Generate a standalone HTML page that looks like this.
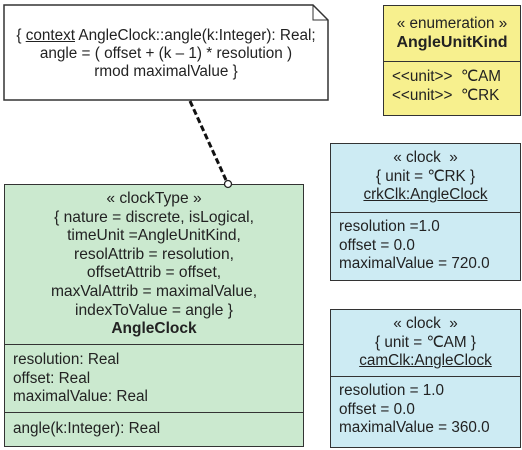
<!DOCTYPE html>
<html><head><meta charset="utf-8"><style>
body{margin:0;width:522px;height:450px;background:#fff;position:relative;font-family:"Liberation Sans",sans-serif;font-size:15.3px;color:#222;overflow:hidden}
.b{position:absolute;border:1.5px solid #333;box-sizing:border-box}
.t{position:absolute;left:0;right:0;text-align:center;line-height:18.6px;white-space:nowrap}
.l{position:absolute;left:8px;line-height:18.6px;white-space:nowrap}
.h{position:absolute;left:0;right:0;border-top:1.5px solid #333}
u{text-decoration:underline}
</style></head><body>
<svg width="522" height="450" style="position:absolute;left:0;top:0">
<path d="M4 5 H313 L328 20 V100 H4 Z" fill="#fff" stroke="#333" stroke-width="1.5"/>
<path d="M313 5 V20 H328" fill="none" stroke="#333" stroke-width="1"/>
<line x1="190" y1="101" x2="226" y2="180" stroke="#111" stroke-width="3" stroke-dasharray="6,3"/>
</svg>
<div class="t" style="left:4px;width:324px;top:27px;line-height:18px">{ <u>context</u> AngleClock::angle(k:Integer): Real;<br>angle = ( offset + (k – 1) * resolution )<br>rmod maximalValue }</div>

<div class="b" style="left:383px;top:5px;width:138px;height:111px;background:#f7f08e">
<div class="t" style="top:9px">« enumeration »<br><b style="font-size:16px">AngleUnitKind</b></div>
<div class="h" style="top:55px"></div>
<div class="l" style="top:62px;left:8px">&lt;&lt;unit&gt;&gt;&nbsp; ℃AM<br>&lt;&lt;unit&gt;&gt;&nbsp; ℃RK</div>
</div>

<div class="b" style="left:330px;top:143px;width:191px;height:138px;background:#cdebf3">
<div class="t" style="top:5px">« clock&nbsp; »<br>{ unit = ℃RK }<br><u>crkClk:AngleClock</u></div>
<div class="h" style="top:68px"></div>
<div class="l" style="top:74px">resolution =1.0<br>offset = 0.0<br>maximalValue = 720.0</div>
</div>

<div class="b" style="left:330px;top:309px;width:191px;height:139px;background:#cdebf3">
<div class="t" style="top:5px">« clock&nbsp; »<br>{ unit = ℃AM }<br><u>camClk:AngleClock</u></div>
<div class="h" style="top:66px"></div>
<div class="l" style="top:72px">resolution = 1.0<br>offset = 0.0<br>maximalValue = 360.0</div>
</div>

<div class="b" style="left:4px;top:184px;width:300px;height:263px;background:#cbe9cf">
<div class="t" style="top:5px;font-size:15.6px">« clockType »<br>{ nature = discrete, isLogical,<br>timeUnit =AngleUnitKind,<br>resolAttrib = resolution,<br>offsetAttrib = offset,<br>maxValAttrib = maximalValue,<br>indexToValue = angle }<br><b style="font-size:15.5px">AngleClock</b></div>
<div class="h" style="top:159px"></div>
<div class="l" style="top:166px">resolution: Real<br>offset: Real<br>maximalValue: Real</div>
<div class="h" style="top:227px"></div>
<div class="l" style="top:235px">angle(k:Integer): Real</div>
</div>
<svg width="522" height="450" style="position:absolute;left:0;top:0"><circle cx="228" cy="184" r="3.5" fill="#fff" stroke="#222" stroke-width="1.3"/></svg>
</body></html>
